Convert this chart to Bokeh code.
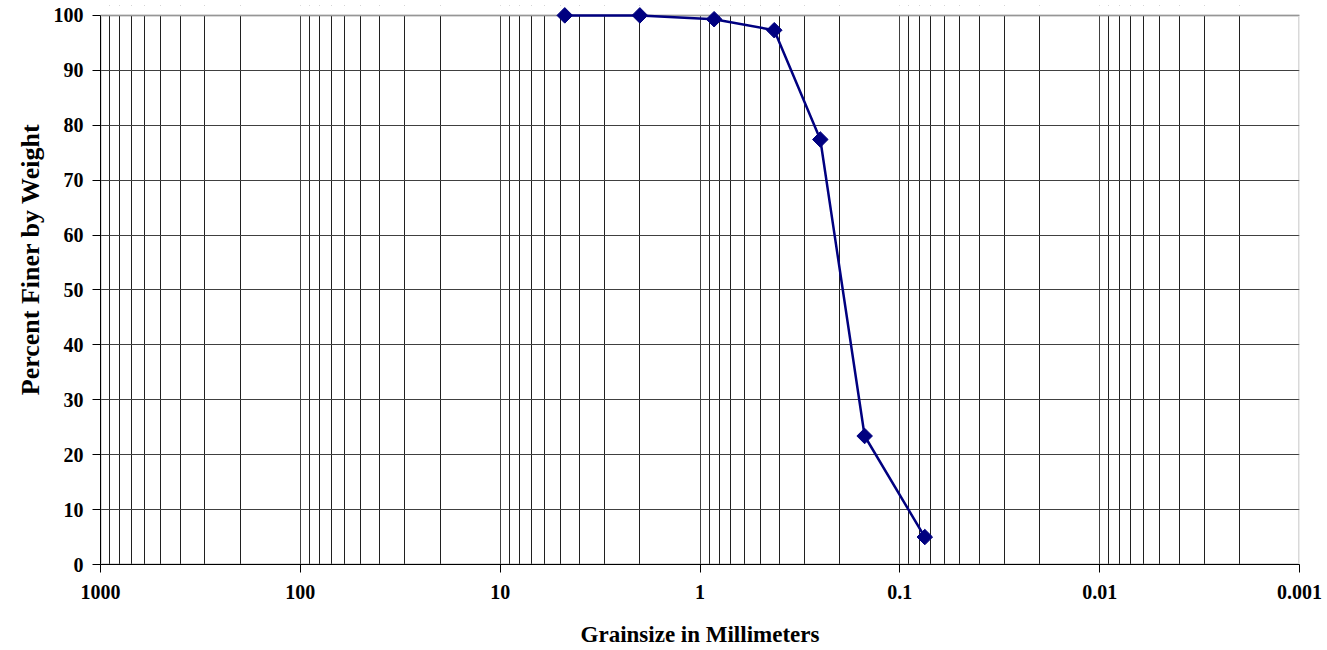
import math
from bokeh.plotting import figure
from bokeh.models import (Range1d, FixedTicker, CustomJSTickFormatter, BoxAnnotation, Title)
from bokeh.embed import file_html
from bokeh.resources import INLINE

# Data (sieve sizes in mm and percent passing)
grain_size_mm = [4.75, 2.0, 0.85, 0.425, 0.25, 0.15, 0.075]
percent_finer = [100.0, 100.0, 99.3, 97.3, 77.4, 23.4, 5.0]

x_major_ticks = [1000, 100, 10, 1, 0.1, 0.01, 0.001]
y_ticks = [0, 10, 20, 30, 40, 50, 60, 70, 80, 90, 100]
x_minor_ticks = [m * d for d in [100, 10, 1, 0.1, 0.01, 0.001] for m in range(2, 10)]

FONT = "Liberation Serif"

p = figure(width=1327, height=650, x_axis_type="log",
           x_range=Range1d(1000, 0.001), y_range=Range1d(0, 101.8),
           output_backend="svg", toolbar_location=None,
           min_border_left=100, min_border_right=28,
           min_border_top=5, min_border_bottom=86)
p.background_fill_color = "white"
p.border_fill_color = "white"
p.outline_line_color = None

# axes
p.xaxis.ticker = FixedTicker(ticks=x_major_ticks, minor_ticks=x_minor_ticks)
p.xaxis.formatter = CustomJSTickFormatter(code="return String(Number(tick.toPrecision(6)));")
p.yaxis.ticker = FixedTicker(ticks=y_ticks)
p.yaxis.bounds = (0, 100)
for ax in (p.xaxis, p.yaxis):
    ax.major_label_text_font = FONT
    ax.major_label_text_font_style = "bold"
    ax.major_label_text_font_size = "20px"
    ax.major_label_text_color = "black"
    ax.axis_label_text_font = FONT
    ax.axis_label_text_font_style = "bold"
    ax.axis_label_text_color = "black"
    ax.axis_line_color = "black"
    ax.major_tick_line_color = "black"
    ax.major_tick_in = 0
    ax.major_tick_out = 8
    ax.minor_tick_in = 0
    ax.minor_tick_out = 0
p.xaxis.axis_label = "Grainsize in Millimeters"
p.xaxis.axis_label_text_font_size = "23px"
p.xaxis.major_label_standoff = 12
p.xaxis.axis_label_standoff = 20
p.yaxis.major_label_standoff = 9

# y-axis title as a side title (placed a little above the frame centre)
p.add_layout(Title(text="Percent Finer by Weight", align="right", offset=118,
                   text_font=FONT, text_font_style="bold", text_font_size="26px",
                   text_color="black", standoff=12), "left")

# grid
p.xgrid.grid_line_color = "#404040"
p.xgrid.grid_line_width = 1
p.xgrid.minor_grid_line_color = "#202020"
p.xgrid.minor_grid_line_width = 1
p.ygrid.grid_line_color = "#404040"
p.ygrid.grid_line_width = 1

# mask the strip above 100 % and draw the plot-area border
p.add_layout(BoxAnnotation(bottom=100, fill_color="white", fill_alpha=1.0,
                           line_alpha=0, level="underlay"))
p.add_layout(BoxAnnotation(left=1000, right=0.001, bottom=0, top=100,
                           fill_alpha=0, line_color="#808080", line_width=3,
                           level="underlay"))

p.line(grain_size_mm, percent_finer, line_color="#000080", line_width=2.5)
p.scatter(grain_size_mm, percent_finer, marker="square", angle=math.pi / 4,
          size=11, fill_color="#000080", line_color="#000080")

open("out.html", "w").write(file_html(p, INLINE))
